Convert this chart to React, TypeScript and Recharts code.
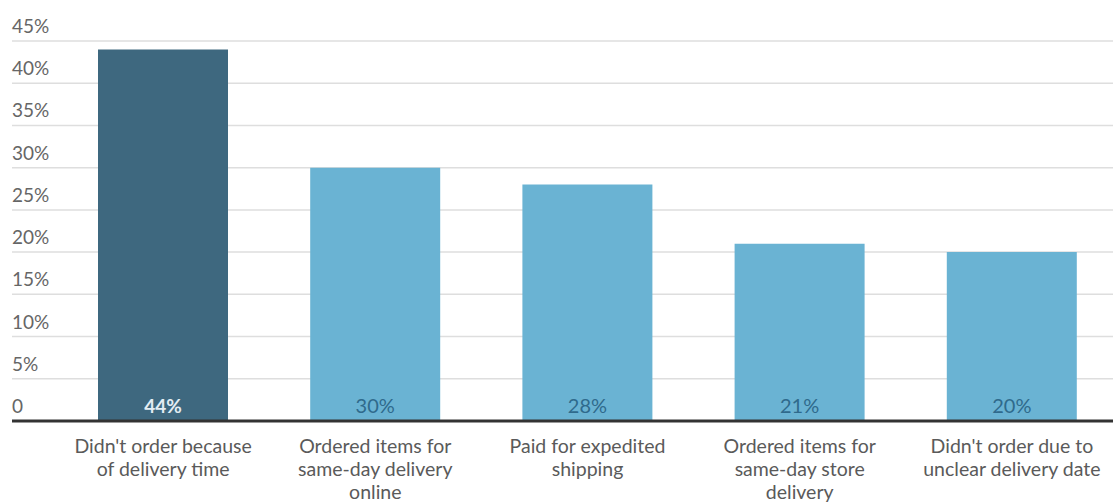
import { BarChart, Bar, XAxis, YAxis, CartesianGrid, Cell, LabelList } from 'recharts'

const categories = [
  "Didn't order because|of delivery time",
  'Ordered items for|same-day delivery|online',
  'Paid for expedited|shipping',
  'Ordered items for|same-day store|delivery',
  "Didn't order due to|unclear delivery date",
]
const shares = [44, 30, 28, 21, 20]
const yTicks = [0, 5, 10, 15, 20, 25, 30, 35, 40, 45]
const highlighted = 0

const data = categories.map((name, i) => ({ name, share: shares[i] }))

const FONT = 'Lato, "Open Sans", sans-serif'

function YTick(props: any) {
  const { y, payload } = props
  const v = payload.value
  return (
    <text x={12} y={y - 8} textAnchor="start" fontSize={19} fontFamily={FONT} fill="#666">
      {v === 0 ? '0' : `${v}%`}
    </text>
  )
}

function XTick(props: any) {
  const { x, y, payload } = props
  const lines = String(payload.value).split('|')
  return (
    <text x={x} y={y} textAnchor="middle" fontSize={19.5} fontFamily={FONT} fill="#5a5a5a">
      {lines.map((l, i) => (
        <tspan key={i} x={x} dy={i === 0 ? 24 : 23}>
          {l}
        </tspan>
      ))}
    </text>
  )
}

function BarValue(props: any) {
  const { x, y, width, height, value, index } = props
  const hi = index === highlighted
  return (
    <text
      x={x + width / 2}
      y={y + height - 8}
      textAnchor="middle"
      fontSize={hi ? 19 : 20}
      fontWeight={hi ? 700 : 400}
      fontFamily={FONT}
      fill={hi ? '#e3edf3' : '#2f6a8c'}
    >
      {value}%
    </text>
  )
}

export default function App() {
  return (
    <div style={{ position: 'fixed', left: 0, top: 0, width: 1113, height: 504, overflow: 'hidden', background: '#fff' }}>
      <BarChart width={1118} height={504} data={data} margin={{ top: 41, right: 0, bottom: 0, left: 0 }}>
        <CartesianGrid vertical={false} stroke="#dedede" strokeWidth={1.5} />
        <YAxis
          width={12}
          domain={[0, 45]}
          ticks={yTicks}
          axisLine={false}
          tickLine={false}
          tick={<YTick />}
        />
        <Bar dataKey="share" barSize={130} isAnimationActive={false}>
          {data.map((_, i) => (
            <Cell key={i} fill={i === highlighted ? '#3e687f' : '#6ab3d3'} />
          ))}
          <LabelList dataKey="share" content={<BarValue />} />
        </Bar>
        <XAxis
          dataKey="name"
          height={83}
          padding={{ left: 45, right: 0 }}
          axisLine={{ stroke: '#333', strokeWidth: 3 }}
          tickLine={false}
          interval={0}
          tick={<XTick />}
        />
      </BarChart>
    </div>
  )
}
